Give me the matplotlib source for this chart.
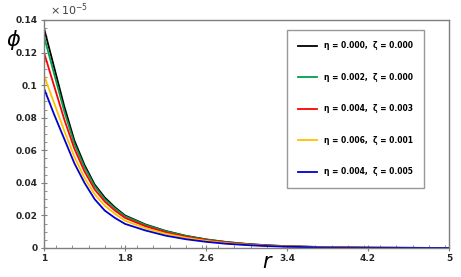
import matplotlib
matplotlib.use('Agg')
import matplotlib.pyplot as plt
from matplotlib.ticker import MultipleLocator, FixedLocator, FixedFormatter

# radial positions
r = [1.0, 1.1, 1.2, 1.3, 1.4, 1.5, 1.6, 1.7, 1.8, 2.0, 2.2, 2.4, 2.6,
     2.8, 3.0, 3.2, 3.4, 3.8, 4.2, 4.6, 5.0]

# phi values (x 1e-5)
phi_black = [0.135, 0.111, 0.087, 0.066, 0.051, 0.039, 0.031, 0.025, 0.020,
             0.0145, 0.0105, 0.0075, 0.0053, 0.0037, 0.0025, 0.0017, 0.0011,
             0.0005, 0.0002, 0.0001, 0.0]
phi_green = [0.130, 0.107, 0.084, 0.064, 0.0495, 0.038, 0.030, 0.0243, 0.0195,
             0.0142, 0.0103, 0.0074, 0.0052, 0.0036, 0.0025, 0.0016, 0.0011,
             0.0005, 0.0002, 0.0001, 0.0]
phi_red = [0.120, 0.0995, 0.079, 0.061, 0.047, 0.036, 0.0285, 0.023, 0.0185,
           0.0134, 0.0096, 0.0069, 0.0049, 0.0034, 0.0023, 0.0015, 0.0010,
           0.0004, 0.0002, 0.0001, 0.0]
phi_yellow = [0.106, 0.089, 0.072, 0.056, 0.043, 0.033, 0.026, 0.021, 0.0167,
              0.0122, 0.0088, 0.0063, 0.0044, 0.0030, 0.0020, 0.0013, 0.0009,
              0.0004, 0.0001, 0.00005, 0.0]
phi_blue = [0.098, 0.082, 0.067, 0.052, 0.040, 0.030, 0.023, 0.0185, 0.0148,
            0.0108, 0.0076, 0.0054, 0.0038, 0.0026, 0.0018, 0.0012, 0.0008,
            0.0003, 0.0001, 0.00005, 0.0]

labels = ['η = 0.000,  ζ = 0.000', 'η = 0.002,  ζ = 0.000',
          'η = 0.004,  ζ = 0.003', 'η = 0.006,  ζ = 0.001',
          'η = 0.004,  ζ = 0.005']
colors = ['#000000', '#00a050', '#ff0000', '#ffc000', '#0000d0']

x_ticks = [1, 1.8, 2.6, 3.4, 4.2, 5]
x_labels = ['1', '1.8', '2.6', '3.4', '4.2', '5']
y_ticks = [0, 0.02, 0.04, 0.06, 0.08, 0.1, 0.12, 0.14]
y_labels = ['0', '0.02', '0.04', '0.06', '0.08', '0.1', '0.12', '0.14']

fig = plt.figure(figsize=(4.61, 2.77), dpi=100)
ax = fig.add_axes([0.0954, 0.1047, 0.8786, 0.8233])

series = [phi_black, phi_green, phi_red, phi_yellow, phi_blue]
for vals, c, lab in zip(series, colors, labels):
    ax.plot(r, vals, color=c, linewidth=1.3, label=lab)

ax.set_xlim(1, 5)
ax.set_ylim(0, 0.14)
ax.xaxis.set_major_locator(FixedLocator(x_ticks))
ax.xaxis.set_major_formatter(FixedFormatter(x_labels))
ax.xaxis.set_minor_locator(MultipleLocator(0.16))
ax.yaxis.set_major_locator(FixedLocator(y_ticks))
ax.yaxis.set_major_formatter(FixedFormatter(y_labels))
ax.yaxis.set_minor_locator(MultipleLocator(0.005))

spine_color = '#7f7f7f'
for s in ax.spines.values():
    s.set_color(spine_color)
    s.set_linewidth(1.0)
ax.tick_params(which='major', direction='inout', length=5, color=spine_color,
               labelsize=6.5, pad=2)
ax.tick_params(which='minor', direction='in', length=2.5, color=spine_color)
for t in ax.get_xticklabels() + ax.get_yticklabels():
    t.set_fontweight('bold')
    t.set_color('#262626')

fig.text(0.03, 0.855, r'$\phi$', fontsize=15, ha='center', va='center')
fig.text(0.582, 0.055, r'$r$', fontsize=15, ha='center', va='center')
fig.text(0.108, 0.965, r'$\times\,10^{-5}$', fontsize=8, ha='left',
         va='center', color='#404040')

leg = ax.legend(loc='upper right', bbox_to_anchor=(0.9385, 0.957), frameon=True,
                fancybox=False, edgecolor='#7f7f7f', fontsize=5.5,
                handlelength=2.4, handletextpad=0.9, labelspacing=2.95,
                borderpad=1.5, borderaxespad=0)
leg.get_frame().set_linewidth(1.0)
for t in leg.get_texts():
    t.set_fontweight('bold')

fig.savefig('out.png', dpi=100)
